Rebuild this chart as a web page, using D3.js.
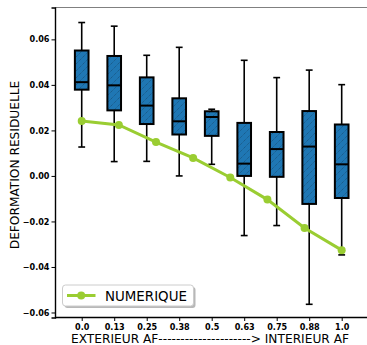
<!DOCTYPE html>
<html><head><meta charset="utf-8">
<script src="https://cdn.jsdelivr.net/npm/d3@7"></script>
<style>body{margin:0;background:#fff}svg{display:block}</style>
</head><body>
<svg id="c" width="367" height="345"></svg>
<script>
const categories = ["0.0","0.13","0.25","0.38","0.5","0.63","0.75","0.88","1.0"];
const whiskerLow  = [0.0127,0.0063,0.0064,0.0000,0.0051,-0.0262,-0.0218,-0.0564,-0.0347];
const q1          = [0.0379,0.0288,0.0228,0.0182,0.0176,0.0000,-0.0004,-0.0123,-0.0097];
const medians     = [0.0412,0.0398,0.0309,0.0240,0.0259,0.0054,0.0118,0.0129,0.0051];
const q3          = [0.0551,0.0527,0.0433,0.0341,0.0284,0.0233,0.0193,0.0285,0.0226];
const whiskerHigh = [0.0674,0.0658,0.0530,0.0565,0.0293,0.0508,0.0432,0.0465,0.0401];
const numericX    = [1,2.142857,3.285714,4.428571,5.571429,6.714286,7.857143,9];
const numericY    = [0.0241,0.0224,0.0149,0.0079,-0.0007,-0.0104,-0.0229,-0.0326];
const yTicks      = [-0.06,-0.04,-0.02,0.00,0.02,0.04,0.06];

const svg = d3.select("#c");
const L = 55, R = 366, T = 7.5, B = 317.5;
const x = d3.scaleLinear().domain([0.178, 9.748]).range([L, R]);
const y = d3.scaleLinear().domain([-0.0622, 0.0740]).range([B, T]);
const bw = x(1.42) - x(1);

const defs = svg.append("defs");
const pat = defs.append("pattern").attr("id","hatch").attr("patternUnits","userSpaceOnUse")
  .attr("width",7).attr("height",7);
pat.append("rect").attr("width",7).attr("height",7).attr("fill","#1f77b4");
pat.append("path").attr("d","M-1,8 L8,-1 M-1,1 L1,-1 M6,8 L8,6")
  .attr("stroke","#17507a").attr("stroke-width",0.8).attr("stroke-dasharray","1.2,0.8");

// spines
svg.append("line").attr("x1",L).attr("x2",R+5).attr("y1",T).attr("y2",T).attr("stroke","#808080").attr("stroke-width",1.2);

const g = svg.append("g");
categories.forEach((c,i)=>{
  const cx = x(i+1);
  g.append("line").attr("x1",cx).attr("x2",cx).attr("y1",y(whiskerHigh[i])).attr("y2",y(q3[i])).attr("stroke","#000").attr("stroke-width",1.6);
  g.append("line").attr("x1",cx).attr("x2",cx).attr("y1",y(q1[i])).attr("y2",y(whiskerLow[i])).attr("stroke","#000").attr("stroke-width",1.6);
  g.append("line").attr("x1",cx-bw/4).attr("x2",cx+bw/4).attr("y1",y(whiskerHigh[i])).attr("y2",y(whiskerHigh[i])).attr("stroke","#000").attr("stroke-width",1.6);
  g.append("line").attr("x1",cx-bw/4).attr("x2",cx+bw/4).attr("y1",y(whiskerLow[i])).attr("y2",y(whiskerLow[i])).attr("stroke","#000").attr("stroke-width",1.6);
  g.append("rect").attr("x",cx-bw/2).attr("width",bw).attr("y",y(q3[i])).attr("height",y(q1[i])-y(q3[i]))
    .attr("fill","url(#hatch)").attr("stroke","#000").attr("stroke-width",2);
  g.append("line").attr("x1",cx-bw/2).attr("x2",cx+bw/2).attr("y1",y(medians[i])).attr("y2",y(medians[i])).attr("stroke","#000").attr("stroke-width",2);
});

const line = d3.line().x((d,i)=>x(numericX[i])).y(d=>y(d));
svg.append("path").datum(numericY).attr("d",line).attr("fill","none").attr("stroke","#9acd32").attr("stroke-width",3);
svg.selectAll(".pt").data(numericY).enter().append("circle")
  .attr("cx",(d,i)=>x(numericX[i])).attr("cy",d=>y(d)).attr("r",4).attr("fill","#9acd32");

// axes
const ya = svg.append("g").attr("transform",`translate(${L},0)`)
  .call(d3.axisLeft(y).tickValues(yTicks).tickSize(3.5).tickPadding(2)
    .tickFormat(d=>d3.format(".2f")(d).replace("-","\u2212")));
ya.select(".domain").attr("stroke","#000").attr("stroke-width",1.4);
ya.selectAll("text").attr("font-family","DejaVu Sans").attr("font-weight","bold").attr("font-size",8.1).attr("fill","#000");
const xa = svg.append("g").attr("transform",`translate(0,${B})`)
  .call(d3.axisBottom(x).tickValues(d3.range(1,10)).tickSize(3.5).tickPadding(3).tickFormat((d,i)=>categories[i]));
xa.select(".domain").attr("d",`M${L},0H${R+5}`).attr("stroke","#000").attr("stroke-width",1.4);
xa.selectAll("text").attr("font-family","DejaVu Sans").attr("font-weight","bold").attr("font-size",8.1).attr("fill","#000");

svg.append("text").attr("x",210).attr("y",343).attr("text-anchor","middle")
  .attr("font-family","DejaVu Sans").attr("font-size",12.2).attr("fill","#000")
  .text("EXTERIEUR AF---------------------> INTERIEUR AF");
svg.append("text").attr("transform","translate(19,165) rotate(-90)").attr("text-anchor","middle")
  .attr("font-family","DejaVu Sans").attr("font-size",12.2).attr("fill","#000")
  .text("DEFORMATION RESIDUELLE");

// legend
const lg = svg.append("g");
lg.append("rect").attr("x",64.5).attr("y",287).attr("width",131).attr("height",21).attr("rx",3).attr("fill","#888").attr("opacity",0.6);
lg.append("rect").attr("x",62.5).attr("y",285).attr("width",131).attr("height",21).attr("rx",3).attr("fill","#fff").attr("stroke","#ccc").attr("stroke-width",1);
lg.append("line").attr("x1",67).attr("x2",95.5).attr("y1",295.5).attr("y2",295.5).attr("stroke","#9acd32").attr("stroke-width",3);
lg.append("circle").attr("cx",81.2).attr("cy",295.5).attr("r",4).attr("fill","#9acd32");
lg.append("text").attr("x",105).attr("y",300.5).attr("font-family","DejaVu Sans").attr("font-size",13.4).attr("fill","#000").text("NUMERIQUE");
</script>
</body></html>
